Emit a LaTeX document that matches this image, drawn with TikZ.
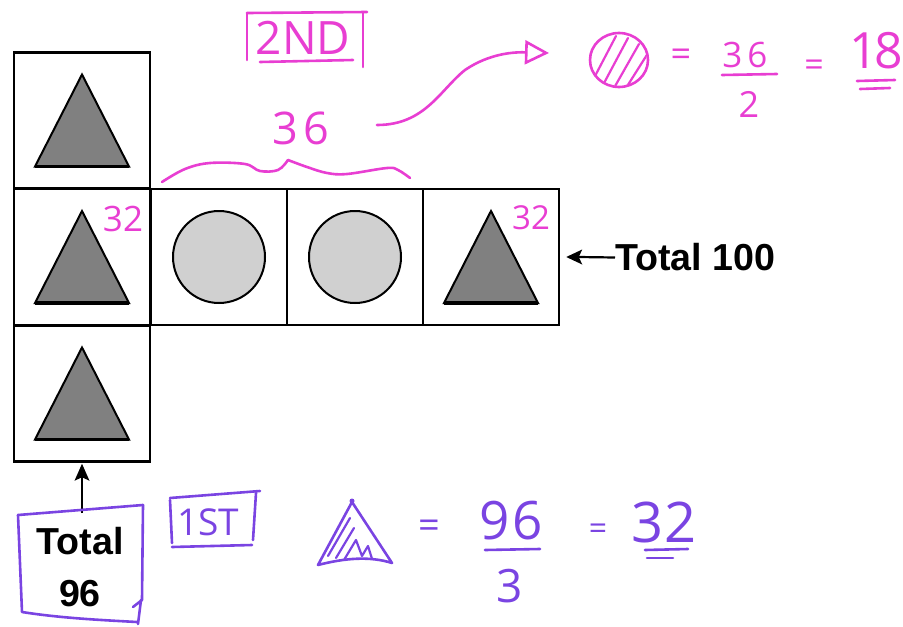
\documentclass[tikz,border=0pt]{standalone}
\usepackage{fontspec}
\setmainfont{Liberation Sans}
\newfontfamily\hand{Open Sans}
\usetikzlibrary{arrows.meta}
\definecolor{pinkink}{RGB}{232,62,210}
\definecolor{purpink}{RGB}{122,68,226}
\definecolor{trigray}{RGB}{128,128,128}
\definecolor{circgray}{RGB}{208,208,208}
\begin{document}
\begin{tikzpicture}[x=1pt,y=-1pt,
  cell/.style={draw=black, line width=2.5pt, minimum size=136pt, inner sep=0pt},
  tri/.style={draw=black, line width=2pt, fill=trigray, line join=miter},
  disc/.style={draw=black, line width=2pt, fill=circgray},
  inkp/.style={draw=pinkink, line width=2.6pt, line cap=round, line join=round},
  inkv/.style={draw=purpink, line width=2.6pt, line cap=round, line join=round},
  hp/.style={inner sep=0pt, text=pinkink},
  hv/.style={inner sep=0pt, text=purpink},
  bigbold/.style={inner sep=0pt, font=\bfseries\fontsize{37.6}{52}\selectfont},
  blackline/.style={line width=2.2pt},
  headfill/.style={fill=black, line join=miter}
]
\useasboundingbox (0,0) rectangle (903,627);

% cells
\node[cell] (c1) at (82,120.5) {};
\node[cell] (c2) at (82,257) {};
\node[cell] (c3) at (82,393.5) {};
\node[cell] (c4) at (219,257) {};
\node[cell] (c5) at (355,257) {};
\node[cell] (c6) at (491,257) {};

% triangles and circles
\foreach \c in {c1,c2,c3,c6}{
  \draw[tri] ([shift={(0,-46)}]\c.center) -- ([shift={(47,46)}]\c.center) -- ([shift={(-47,46)}]\c.center) -- cycle;
  \draw[line width=3.5pt] ([shift={(47,46)}]\c.center) -- ([shift={(-47,46)}]\c.center);
}
\draw[disc] (c4.center) circle[radius=46];
\draw[disc] (c5.center) circle[radius=46];

% pink 32 labels
\node[hp, font=\hand\fontsize{35}{35}\selectfont] (n32a) at (123,219) {32};
\node[hp, font=\hand\fontsize{33}{33}\selectfont] (n32b) at (531,218) {32};

% Total 100
\node[bigbold, anchor=west] (t100) at (615,257.5) {Total 100};
\coordinate (tipA) at ([xshift=6pt]c6.east);
\draw[blackline] (t100.west) -- ([xshift=12pt]tipA);
\fill[headfill] (tipA) -- ++(16,-7.5) -- ++(-3.5,7.5) -- ++(3.5,7.5) -- cycle;

% Total 96
\node[bigbold, align=center] (t96) at (80,567) {Total\\96};
\coordinate (a96) at (82,513);
\coordinate (tipB) at ([yshift=-1pt]c3.south);
\draw[blackline] (a96) -- ([yshift=-12pt]tipB);
\fill[headfill] (tipB) -- ++(-7.5,17) -- ++(7.5,-3.5) -- ++(7.5,3.5) -- cycle;
\draw[inkv] (18,515) -- (143,505);
\draw[inkv] (18,515) -- (22,612) .. controls (60,618) and (100,620) .. (137,622);
\draw[inkv] (143,505) -- (142,600) -- (133,607);
\draw[inkv] (141,600) -- (138,624);

% 2ND box
\node[hp, font=\hand\fontsize{46}{46}\selectfont] (nd) at (303,38) {2ND};
\draw[inkp] (247,13) -- (247,60);
\draw[inkp] (247,13) -- (367,12);
\draw[inkp] (363,12) -- (363,67);
\draw[inkp] (260,62) -- (353,60);

% 36 and brace
\node[hp, font=\hand\fontsize{45}{45}\selectfont] (n36) at (301,128) {3\kern5pt 6};
\draw[inkp] plot[smooth, tension=0.6] coordinates {(162,182) (185,169) (210,163) (245,164) (260,171) (278,170) (288,160)};
\draw[inkp] plot[smooth, tension=0.6] coordinates {(288,160) (307,167) (327,173) (347,174) (387,168) (398,170) (410,178)};

% curved arrow
\coordinate (arrS) at (377,125);
\coordinate (arrE) at (549,53);
\draw[inkp, -{Triangle[open, length=24pt, width=24pt]}] (arrS) .. controls (425,125) and (440,90) .. (465,70) .. controls (490,53) and (515,52) .. (arrE);

% hatched circle formula
\begin{scope}
  \clip (619,60) ellipse [x radius=28, y radius=26];
  \draw[inkp, line width=2.2pt] (594,78) -- (616,36) (603,85) -- (628,38) (614,88) -- (639,44) (626,88) -- (650,50);
\end{scope}
\draw[inkp] (619,60) ellipse [x radius=29, y radius=27];
\node[hp, font=\hand\fontsize{36}{36}\selectfont] (eq1) at (681,58) {=};
\node[hp, font=\hand\fontsize{35}{35}\selectfont] (f36) at (745,55) {3\kern5pt 6};
\draw[inkp] (722,75) -- (777,74);
\node[hp, font=\hand\fontsize{36}{36}\selectfont] (f2) at (749,104) {2};
\node[hp, font=\hand\fontsize{34}{34}\selectfont] (eq2) at (814,68) {=};
\node[hp, font=\hand\fontsize{50}{50}\selectfont] (f18) at (876,51) {1\kern-4pt 8};
\draw[inkp] (857,81) -- (895,80);
\draw[inkp] (860,89) -- (890,88);

% 1ST box
\node[hv, font=\hand\fontsize{37}{37}\selectfont] (st) at (208,522) {1ST};
\draw[inkv] (170,500) -- (172,543);
\draw[inkv] (170,498) -- (260,491);
\draw[inkv] (256,493) -- (253,540);
\draw[inkv] (172,547) -- (252,545);

% hatched triangle formula
\begin{scope}
  \clip (352,502) -- (318,565) .. controls (345,558) and (370,556) .. (392,563) -- cycle;
  \draw[inkv, line width=2.2pt] (328,556) -- (350,518) (336,558) -- (354,528) (344,560) -- (356,540) -- (362,556) -- (368,546) -- (373,562);
\end{scope}
\draw[inkv] (352,502) -- (318,565) .. controls (345,558) and (370,556) .. (392,563) -- cycle;
\fill[purpink] (352,501) circle[radius=2.5];
\node[hv, font=\hand\fontsize{38}{38}\selectfont] (eq3) at (429,529) {=};
\node[hv, font=\hand\fontsize{53}{53}\selectfont] (f96) at (511,521) {9\kern3pt 6};
\draw[inkv] (485,550) -- (540,549);
\node[hv, font=\hand\fontsize{46}{46}\selectfont] (f3) at (510,586) {3};
\node[hv, font=\hand\fontsize{32}{32}\selectfont] (eq4) at (598,532) {=};
\node[hv, font=\hand\fontsize{56}{56}\selectfont] (f32) at (664,522) {32};
\draw[inkv] (645,550) -- (688,549);
\draw[inkv] (647,558) -- (673,558);
\end{tikzpicture}
\end{document}
